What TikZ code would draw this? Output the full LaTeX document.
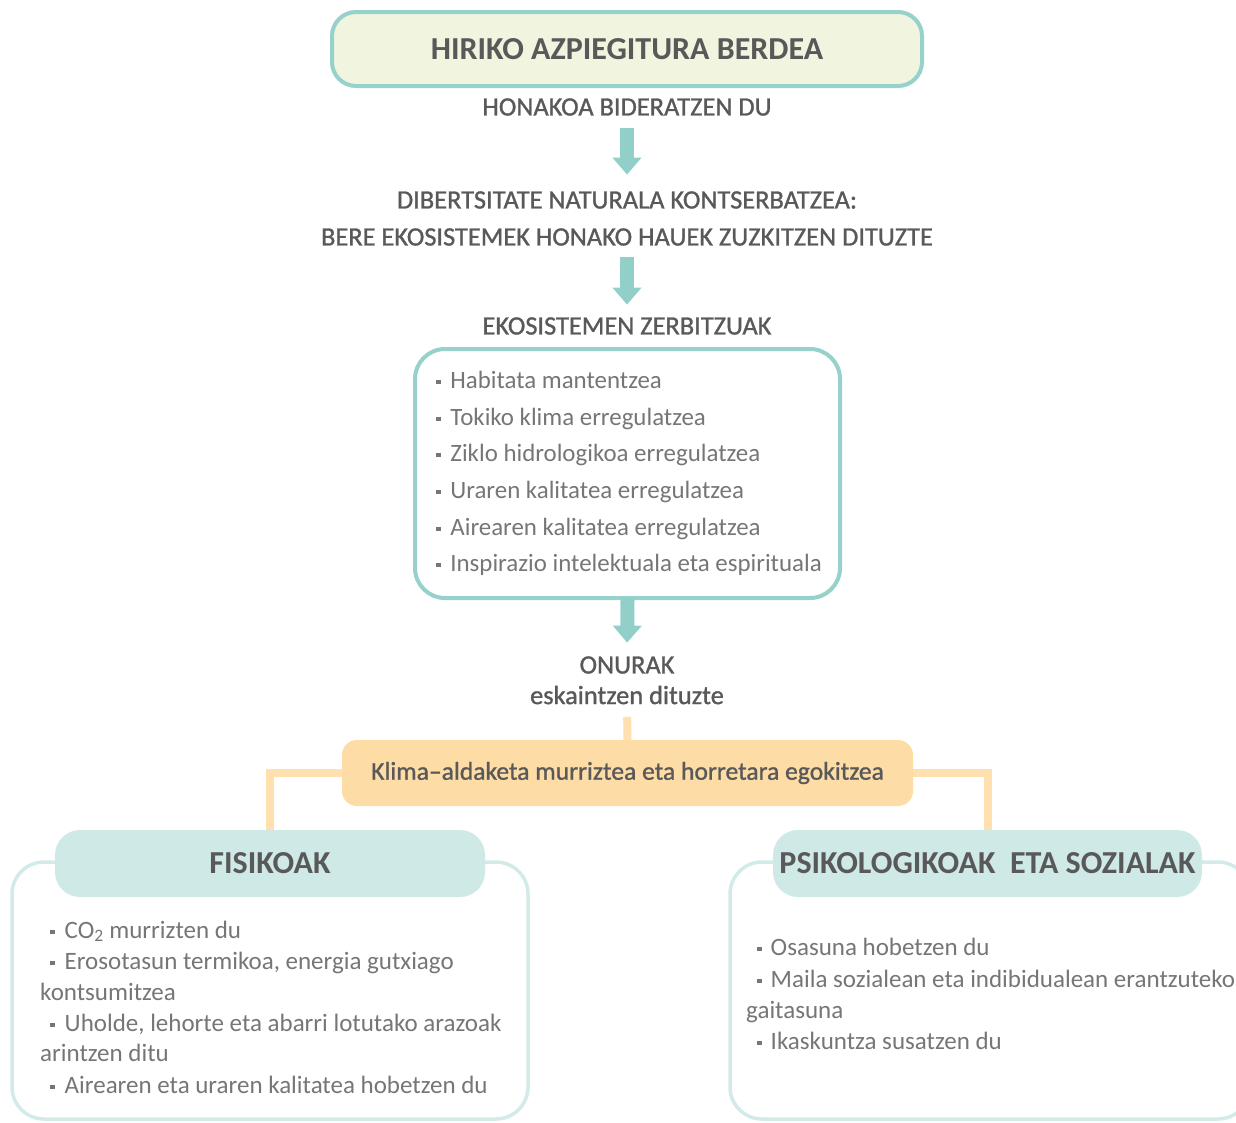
\documentclass[tikz,border=0pt]{standalone}
\usepackage{fontspec}
\setmainfont{Carlito}
\newfontfamily\medf[FakeBold=1.1]{Carlito}
\usetikzlibrary{arrows.meta}

\definecolor{frameteal}{HTML}{96D1CB}
\definecolor{titlefill}{HTML}{F1F5E0}
\definecolor{arrowteal}{HTML}{93CFC9}
\definecolor{orngfill}{HTML}{FDDCA6}
\definecolor{orngline}{HTML}{FFE0AE}
\definecolor{hdrfill}{HTML}{CFE9E6}
\definecolor{bodyline}{HTML}{D3EBE8}
\definecolor{headgrey}{HTML}{595959}
\definecolor{bodygrey}{HTML}{767676}

% small square bullet
\newcommand\sqb{\rule[0.16em]{0.18em}{0.18em}}

\begin{document}
\begin{tikzpicture}[x=1pt,y=-1pt,
  titlebox/.style={draw=frameteal, line width=4pt, fill=titlefill, rounded corners=24pt,
    minimum width=590pt, minimum height=74pt, text=headgrey,
    font=\bfseries\fontsize{32}{36}\selectfont},
  headtxt/.style={inner sep=0pt, text=headgrey, font=\medf\fontsize{26.4}{30}\selectfont},
  flowarrow/.style={draw=arrowteal, line width=14pt, -{Triangle[width=28pt,length=17pt]}},
  svcbox/.style={draw=frameteal, line width=4pt, fill=white, rounded corners=30pt},
  svcitem/.style={inner sep=0pt, anchor=base west, text=bodygrey, font=\fontsize{24.9}{30}\selectfont},
  orngbox/.style={fill=orngfill, rounded corners=15pt, minimum width=571pt, minimum height=66pt,
    text=headgrey, font=\medf\fontsize{25.6}{30}\selectfont},
  orngconn/.style={draw=orngline, line width=8pt},
  hdrbox/.style={fill=hdrfill, rounded corners=25pt, minimum height=67pt, text=headgrey,
    font=\bfseries\fontsize{32}{36}\selectfont},
  bodybox/.style={draw=bodyline, line width=3.5pt, fill=white, rounded corners=32pt},
  bodyitem/.style={inner sep=0pt, anchor=base west, text=bodygrey, font=\fontsize{25}{31}\selectfont}
]
\useasboundingbox (0,0) rectangle (1236,1122);

% ---- top of the chain
\node[titlebox] (title) at (627,49) {HIRIKO AZPIEGITURA BERDEA};
\node[headtxt] (drives) at (627,107) {HONAKOA BIDERATZEN DU};
\node[headtxt] (div1) at (627,200) {DIBERTSITATE NATURALA KONTSERBATZEA:};
\node[headtxt] (div2) at (627,237) {BERE EKOSISTEMEK HONAKO HAUEK ZUZKITZEN DITUZTE};
\node[headtxt] (eko) at (627,326) {EKOSISTEMEN ZERBITZUAK};

\draw[flowarrow, shorten <=12.5pt, shorten >=16.5pt] (drives.south) -- (div1.north);
\draw[flowarrow, shorten <=11.5pt, shorten >=12.5pt] (div2.south) -- (eko.north);

% ---- ecosystem services
\node[svcbox, minimum width=425pt, minimum height=249pt] (svc) at (627.5,473.5) {};
\node[svcitem] (s1) at (436,388) {\sqb\hspace{9.7pt}Habitata mantentzea};
\node[svcitem] (s2) at (436,425) {\sqb\hspace{9.7pt}Tokiko klima erregulatzea};
\node[svcitem] (s3) at (436,461) {\sqb\hspace{9.7pt}Ziklo hidrologikoa erregulatzea};
\node[svcitem] (s4) at (436,498) {\sqb\hspace{9.7pt}Uraren kalitatea erregulatzea};
\node[svcitem] (s5) at (436,535) {\sqb\hspace{9.7pt}Airearen kalitatea erregulatzea};
\node[svcitem] (s6) at (436,571) {\sqb\hspace{9.7pt}Inspirazio intelektuala eta espirituala};

% ---- benefits
\node[headtxt] (onurak) at (627,665) {ONURAK};
\node[headtxt] (esk) at (627,695) {eskaintzen dituzte};
\draw[flowarrow, shorten <=-2pt, shorten >=13.5pt] (svc.south) -- (onurak.north);

\node[orngbox] (klima) at (627.5,773) {Klima–aldaketa murriztea eta horretara egokitzea};
\draw[orngconn, shorten <=12.5pt] (esk.south) -- (klima.north);

% ---- lower panels (outlines first, headers over them)
\node[bodybox, minimum width=516pt, minimum height=257pt] (fisbody) at (270,990.5) {};
\node[bodybox, minimum width=520pt, minimum height=257pt] (psibody) at (990,990.5) {};

\node[hdrbox, minimum width=430pt] (fis) at (270,863.5) {FISIKOAK};
\node[hdrbox, minimum width=429pt] (psi) at (987.5,863.5) {PSIKOLOGIKOAK~ ETA SOZIALAK};

\draw[orngconn] (klima.west) -| (fis.north);
\draw[orngconn] (klima.east) -| (psi.north);

% physical benefits
\node[bodyitem] (f1) at (50,938) {\sqb\hspace{10pt}CO\textsubscript{2} murrizten du};
\node[bodyitem] (f2) at (50,969) {\sqb\hspace{10pt}Erosotasun termikoa, energia gutxiago};
\node[bodyitem] (f2b) at (40,1000) {kontsumitzea};
\node[bodyitem] (f3) at (50,1031) {\sqb\hspace{10pt}Uholde, lehorte eta abarri lotutako arazoak};
\node[bodyitem] (f3b) at (40,1061) {arintzen ditu};
\node[bodyitem] (f4) at (50,1093) {\sqb\hspace{10pt}Airearen eta uraren kalitatea hobetzen du};

% psychological and social benefits
\node[bodyitem] (p1) at (757,955) {\sqb\hspace{9pt}Osasuna hobetzen du};
\node[bodyitem] (p2) at (757,987) {\sqb\hspace{9pt}Maila sozialean eta indibidualean erantzuteko};
\node[bodyitem] (p2b) at (746,1018) {gaitasuna};
\node[bodyitem] (p3) at (757,1049) {\sqb\hspace{9pt}Ikaskuntza susatzen du};
\end{tikzpicture}
\end{document}
